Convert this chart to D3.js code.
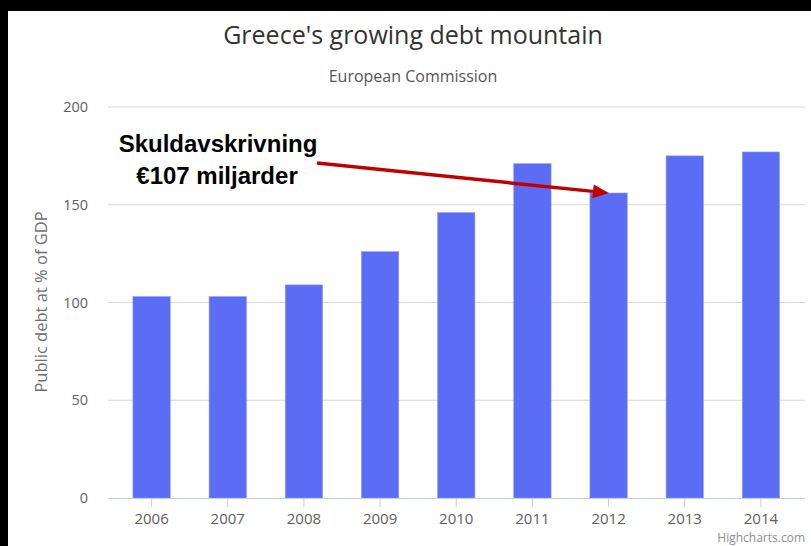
<!DOCTYPE html>
<html><head><meta charset="utf-8">
<script src="https://cdn.jsdelivr.net/npm/d3@7"></script>
<style>html,body{margin:0;padding:0;background:#000;}svg{display:block;}</style>
</head><body>
<script>
const years = ["2006","2007","2008","2009","2010","2011","2012","2013","2014"];
const debt = [103, 103, 109, 126, 146, 171, 156, 175, 177];
const yTicks = [0, 50, 100, 150, 200];
const titleText = "Greece's growing debt mountain";
const subtitleText = "European Commission";
const yAxisTitle = "Public debt at % of GDP";
const annotationLines = ["Skuldavskrivning", "€107 miljarder"];
const annotationTarget = "2012";

const W = 811, H = 546;
const svg = d3.select("body").append("svg").attr("width", W).attr("height", H);
svg.append("rect").attr("x", 8).attr("y", 11).attr("width", W - 8).attr("height", H - 11).attr("fill", "#fff");

const font = "'Open Sans', 'DejaVu Sans', sans-serif";
const x = d3.scaleBand().domain(years).range([113.5, 799]).paddingInner(0.51).paddingOuter(0.255);
const y = d3.scaleLinear().domain([0, 200]).range([498, 107]);

// grid
svg.append("g").selectAll("line").data(yTicks.filter(d => d > 0)).join("line")
  .attr("x1", 108).attr("x2", 805).attr("y1", d => y(d)).attr("y2", d => y(d))
  .attr("stroke", "#d8d8d8").attr("stroke-width", 1);

// bars
svg.append("g").selectAll("rect").data(years).join("rect")
  .attr("x", d => x(d)).attr("width", x.bandwidth())
  .attr("y", (d, i) => y(debt[i])).attr("height", (d, i) => y(0) - y(debt[i]))
  .attr("fill", "#5b6cf5").attr("stroke", "#8e9af7").attr("stroke-width", 0.6);

// x axis line
svg.append("line").attr("x1", 108).attr("x2", 805).attr("y1", y(0) + 0.5).attr("y2", y(0) + 0.5)
  .attr("stroke", "#c0d0e0").attr("stroke-width", 1);

// x ticks & labels
const xg = svg.append("g");
xg.selectAll("line").data(years).join("line")
  .attr("x1", d => x(d) + x.bandwidth() / 2).attr("x2", d => x(d) + x.bandwidth() / 2)
  .attr("y1", y(0)).attr("y2", y(0) + 9).attr("stroke", "#c0d0e0");
xg.selectAll("text").data(years).join("text")
  .attr("x", d => x(d) + x.bandwidth() / 2).attr("y", 524)
  .attr("text-anchor", "middle").attr("font-family", font).attr("font-size", 15)
  .attr("fill", "#606060").text(d => d);

// y labels
svg.append("g").selectAll("text").data(yTicks).join("text")
  .attr("x", 88).attr("y", d => y(d) + 5)
  .attr("text-anchor", "end").attr("font-family", font).attr("font-size", 14.5)
  .attr("fill", "#606060").text(d => d);

// y axis title
svg.append("text").attr("transform", "translate(47,302) rotate(-90)")
  .attr("text-anchor", "middle").attr("font-family", font).attr("font-size", 16.5)
  .attr("fill", "#707070").text(yAxisTitle);

// title & subtitle
svg.append("text").attr("x", 413).attr("y", 44).attr("text-anchor", "middle")
  .attr("font-family", font).attr("font-size", 25).attr("fill", "#333").text(titleText);
svg.append("text").attr("x", 413).attr("y", 82).attr("text-anchor", "middle")
  .attr("font-family", font).attr("font-size", 16).attr("fill", "#555").text(subtitleText);

// credits
svg.append("text").attr("x", 805).attr("y", 542).attr("text-anchor", "end")
  .attr("font-family", font).attr("font-size", 12).attr("fill", "#909090").text("Highcharts.com");

// annotation
const ann = svg.append("g").attr("font-family", "'Liberation Sans', Arial, sans-serif")
  .attr("font-weight", "bold").attr("font-size", 24).attr("fill", "#000");
ann.append("text").attr("x", 218).attr("y", 152).attr("text-anchor", "middle").text(annotationLines[0]);
ann.append("text").attr("x", 217).attr("y", 184).attr("text-anchor", "middle").text(annotationLines[1]);

const ti = years.indexOf(annotationTarget);
const tipX = x(annotationTarget) + 19, tipY = y(debt[ti]) + 0;
const sx = 317, sy = 163;
const ang = Math.atan2(tipY - sy, tipX - sx);
const headLen = 16, headW = 7;
const bx = tipX - headLen * Math.cos(ang), by = tipY - headLen * Math.sin(ang);
svg.append("line").attr("x1", sx).attr("y1", sy).attr("x2", bx).attr("y2", by)
  .attr("stroke", "#c00000").attr("stroke-width", 3.5);
svg.append("path").attr("d", `M${tipX},${tipY} L${bx - headW * Math.sin(ang)},${by + headW * Math.cos(ang)} L${bx + headW * Math.sin(ang)},${by - headW * Math.cos(ang)} Z`)
  .attr("fill", "#c00000");
</script>
</body></html>
